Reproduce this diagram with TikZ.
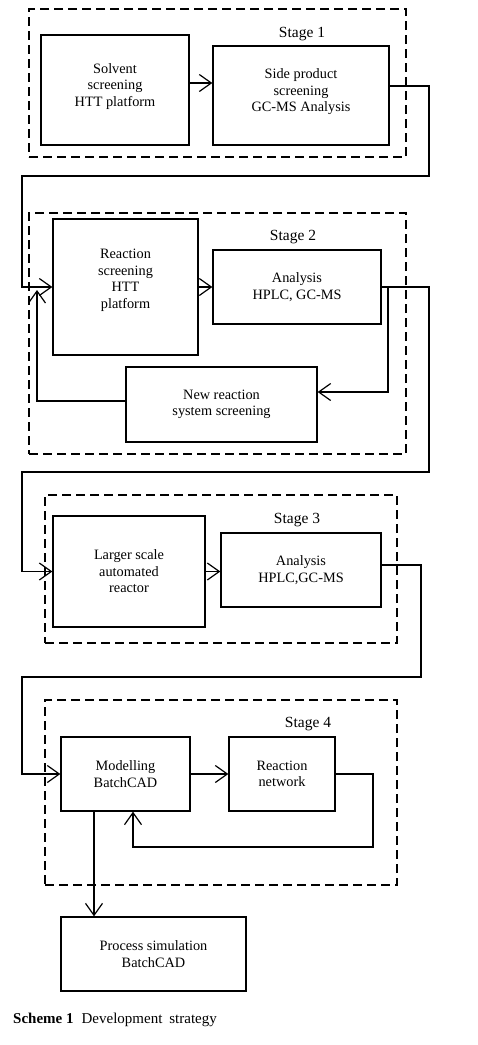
\documentclass[tikz,border=0pt]{standalone}
\usepackage{fontspec}
\setmainfont{Liberation Serif}
\usetikzlibrary{arrows.meta,calc}
\begin{document}
\begin{tikzpicture}[x=1pt,y=-1pt,
  box/.style={draw, line width=1.3pt, inner sep=0pt, align=center, font=\fontsize{14.3}{16.5}\selectfont},
  stagebox/.style={draw, dash pattern=on 9pt off 5pt, line width=1.2pt, inner sep=0pt},
  link/.style={line width=1.2pt},
  arr/.style={link, -{Straight Barb[length=12pt,width=17pt]}},
  lbl/.style={font=\fontsize{15.5}{18}\selectfont, inner sep=0pt}]
\useasboundingbox (0,0) rectangle (477,1045);

% Stage 1
\node[stagebox, minimum width=377pt, minimum height=148pt] (S1) at (217.5,83) {};
\node[lbl] (L1) at (302,34) {Stage 1};
\node[box, minimum width=148pt, minimum height=110pt] (A) at (115,90) {Solvent\\screening\\HTT platform\\[-6pt]\mbox{}};
\node[box, minimum width=176pt, minimum height=99pt] (B) at (301,95.5) {Side product\\screening\\GC-MS Analysis\\[-6pt]\mbox{}};

% Stage 2
\node[stagebox, minimum width=377pt, minimum height=241pt] (S2) at (217.5,333.5) {};
\node[lbl] (L2) at (293,237) {Stage 2};
\node[box, minimum width=145pt, minimum height=136pt] (C) at (125.5,287) {Reaction\\screening\\HTT\\platform\\[0pt]\mbox{}};
\node[box, minimum width=168pt, minimum height=74pt] (D) at (297,287) {Analysis\\HPLC, GC-MS};
\node[box, minimum width=191pt, minimum height=75pt] (E) at (221.5,404.5) {New reaction\\system screening};

% Stage 3
\node[stagebox, minimum width=352pt, minimum height=148pt] (S3) at (221,569) {};
\node[lbl] (L3) at (297,520) {Stage 3};
\node[box, minimum width=152pt, minimum height=111pt] (F) at (129,571.5) {Larger scale\\automated\\reactor};
\node[box, minimum width=160pt, minimum height=74pt] (G) at (301,570) {Analysis\\HPLC,GC-MS};

% Stage 4
\node[stagebox, minimum width=352pt, minimum height=185pt] (S4) at (221,792.5) {};
\node[lbl] (L4) at (308,724) {Stage 4};
\node[box, minimum width=129pt, minimum height=74pt] (H) at (125.5,774) {Modelling\\BatchCAD};
\node[box, minimum width=106pt, minimum height=74pt] (I) at (282,774) {Reaction\\network};
\node[box, minimum width=185pt, minimum height=74pt] (J) at (153.5,954) {Process simulation\\BatchCAD};

% connectors
\coordinate (b1) at (429,86);
\coordinate (b2) at (429,176);
\coordinate (b3) at (22,176);
\draw[arr] (A.east |- 0,83) -- (B.west |- 0,83);
\draw[arr] (B.east |- b1) -- (b1) -- (b2) -- (b3) -- (b3 |- C.west) -- (C.west);

\coordinate (d2) at (429,472);
\coordinate (d3) at (22,472);
\draw[arr] (C.east) -- (D.west);
\draw[arr] (D.east) -- (d2 |- D.east) -- (d2) -- (d3) -- (d3 |- F.west) -- (F.west);

\coordinate (e1) at (388,392);
\draw[arr] (e1 |- D.east) -- (e1) -- (e1 -| E.east);
\coordinate (c1) at (37,401);
\coordinate (c2) at (37,290);
\draw[arr] (c1 -| E.west) -- (c1) -- (c2);

\draw[arr] (F.east) -- (F.east -| G.west);
\coordinate (g1) at (421,565);
\coordinate (g2) at (421,677);
\coordinate (g3) at (22,677);
\draw[arr] (G.east |- g1) -- (g1) -- (g2) -- (g3) -- (g3 |- H.west) -- (H.west);

\draw[arr] (H.east) -- (I.west);
\coordinate (h1) at (373,847);
\coordinate (h2) at (133,847);
\draw[arr] (I.east) -- (I.east -| h1) -- (h1) -- (h2) -- (h2 |- H.south);
\coordinate (j1) at (94,0);
\draw[arr] (j1 |- H.south) -- (j1 |- J.north);

% caption
\node[anchor=base west, inner sep=0pt, font=\fontsize{15}{17}\selectfont] (cap) at (13,1023) {\textbf{Scheme 1}\hspace{8pt}Development\hspace{7pt}strategy};
\end{tikzpicture}
\end{document}
